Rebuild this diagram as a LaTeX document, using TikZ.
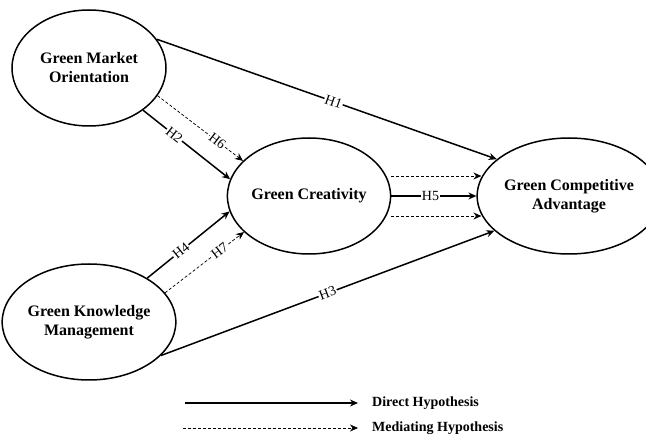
\documentclass[tikz,border=0pt]{standalone}
\usepackage{fontspec}
\setmainfont{Liberation Serif}
\usetikzlibrary{arrows.meta,shapes.geometric}
\begin{document}
\begin{tikzpicture}[x=1pt,y=1pt,
  construct/.style={ellipse,draw,line width=1.5pt,minimum width=154pt,minimum height=116pt,inner sep=0pt,
    align=center,font=\fontsize{16}{19}\selectfont\bfseries},
  direct/.style={line width=1.5pt,-{Stealth[length=8pt,width=7pt]}},
  mediating/.style={line width=0.7pt,dash pattern=on 3pt off 2pt,-{Stealth[length=8pt,width=7pt]}},
  hlabel/.style={fill=white,inner sep=1pt,sloped,font=\fontsize{14}{16}\selectfont},
  legtext/.style={anchor=west,inner sep=0pt,font=\fontsize{14}{16}\selectfont\bfseries}
]
\useasboundingbox[fill=white] (0,0) rectangle (646,437);

\node[construct] (gmo) at (89,369) {Green Market\\Orientation};
\node[construct] (gkm) at (89,115) {Green Knowledge\\Management};
\node[construct] (gc)  at (309,241) {Green Creativity};
\node[construct] (gca) at (569,241) {Green Competitive\\Advantage};

% direct hypotheses
\draw[direct] (gmo.23.8) -- node[hlabel,pos=0.52] {H1} (gca.153.4);
\draw[direct] (gmo.-38.5) -- node[hlabel,pos=0.36] {H2} (gc.168.3);
\draw[direct] (gkm.-25.2) -- node[hlabel,pos=0.5] {H3} (gca.205.9);
\draw[direct] (gkm.37.9) -- node[hlabel,pos=0.41] {H4} (gc.191.9);
\draw[direct] (gc.east) -- node[hlabel,pos=0.46] {H5} (gca.west);

% mediating hypotheses
\draw[mediating] (gmo.-22.2) -- node[hlabel,pos=0.70] {H6} (gc.152.7);
\draw[mediating] (gkm.21.7) -- node[hlabel,pos=0.69] {H7} (gc.209.7);
\draw[mediating] ([yshift=20pt]gc.east) -- ([shift={(5pt,20pt)}]gca.west);
\draw[mediating] ([yshift=-20pt]gc.east) -- ([shift={(5pt,-20pt)}]gca.west);

% legend
\coordinate (ds) at (185,34);
\coordinate (de) at (358,34);
\coordinate (ms) at (183,9);
\coordinate (me) at (358,9);
\node[legtext] (dl) at (372,34) {Direct Hypothesis};
\node[legtext] (ml) at (372,9) {Mediating Hypothesis};
\draw[direct,line width=1.3pt] (ds) -- (de);
\draw[mediating] (ms) -- (me);
\end{tikzpicture}
\end{document}
